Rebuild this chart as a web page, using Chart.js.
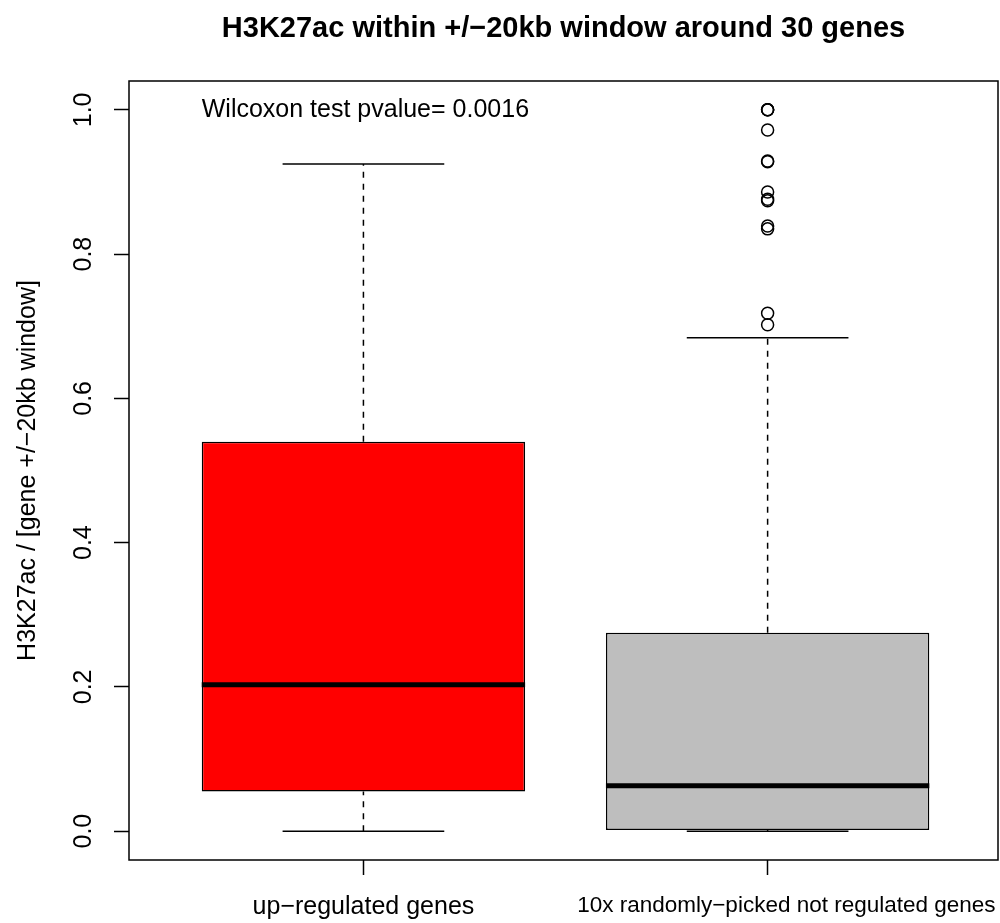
<!DOCTYPE html>
<html>
<head>
<meta charset="utf-8">
<script src="https://cdn.jsdelivr.net/npm/chart.js@4.4.1/dist/chart.umd.min.js"></script>
<style>
  html, body { margin: 0; padding: 0; background: #fff; }
  #wrap { width: 1000px; height: 923px; }
</style>
</head>
<body>
<div id="wrap"><canvas id="chart_box"></canvas></div>
<script>
// boxplot of H3K27ac fraction, two groups (R-style)
const groups      = ['up\u2212regulated genes', '10x randomly\u2212picked not regulated genes'];
const groupPos    = [1, 2];
const lowWhisker  = [0.0, 0.0];
const q1          = [0.055, 0.0015];
const median      = [0.203, 0.063];
const q3          = [0.540, 0.275];
const highWhisker = [0.925, 0.684];
const outliers2   = [1.0, 1.0, 1.0, 0.972, 0.929, 0.928, 0.886, 0.876, 0.874, 0.839, 0.835, 0.718, 0.702];
const boxColors   = ['#FF0000', '#BEBEBE'];
const yTicks      = [0, 0.2, 0.4, 0.6, 0.8, 1.0];
const titleText   = 'H3K27ac within +/\u221220kb window around 30 genes';
const yTitleText  = 'H3K27ac / [gene +/\u221220kb window]';
const pvalueText  = 'Wilcoxon test pvalue= 0.0016';
const pvaluePos   = { x: 0.6, y: 1.0 };

const BOXWEX = 0.8;           // R default box width
const FONT = '"Liberation Sans", Helvetica, Arial, sans-serif';

function seg(x0, x1, y0, y1, extra) {
  return Object.assign({
    type: 'line',
    data: [{ x: x0, y: y0 }, { x: x1, y: y1 }],
    borderColor: '#000',
    borderWidth: 1.5,
    pointRadius: 0,
    fill: false,
    tension: 0,
    order: 0,
  }, extra || {});
}

const datasets = [];
groupPos.forEach((x, i) => {
  datasets.push(seg(x - BOXWEX / 2, x + BOXWEX / 2, median[i], median[i], { borderWidth: 5 }));
  datasets.push(seg(x, x, q3[i], highWhisker[i], { borderDash: [6, 6] }));
  datasets.push(seg(x, x, lowWhisker[i], q1[i], { borderDash: [6, 6] }));
  datasets.push(seg(x - BOXWEX / 4, x + BOXWEX / 4, highWhisker[i], highWhisker[i]));
  datasets.push(seg(x - BOXWEX / 4, x + BOXWEX / 4, lowWhisker[i], lowWhisker[i]));
});
datasets.push({
  type: 'scatter',
  data: outliers2.map(v => ({ x: groupPos[1], y: v })),
  pointStyle: 'circle',
  pointRadius: 6,
  pointBorderWidth: 1.5,
  pointBackgroundColor: 'rgba(0,0,0,0)',
  pointBorderColor: '#000',
  order: 0,
});
datasets.push({
  type: 'bar',
  data: groupPos.map((x, i) => ({ x, y: [q1[i], q3[i]] })),
  backgroundColor: boxColors,
  borderColor: '#000',
  borderWidth: 1.5,
  borderSkipped: false,
  categoryPercentage: 1,
  barPercentage: BOXWEX,
  order: 1,
});

const framePlugin = {
  id: 'frame',
  afterDatasetsDraw(chart) {
    const { ctx, chartArea: a, scales } = chart;
    ctx.save();
    ctx.strokeStyle = '#000';
    ctx.lineWidth = 1.5;
    ctx.strokeRect(a.left, a.top, a.right - a.left, a.bottom - a.top);
    ctx.fillStyle = '#000';
    ctx.font = '25px ' + FONT;
    ctx.textAlign = 'left';
    ctx.textBaseline = 'middle';
    ctx.fillText(pvalueText, scales.x.getPixelForValue(pvaluePos.x), scales.y.getPixelForValue(pvaluePos.y));
    ctx.restore();
  },
};

// keep the plot box where R put it, whatever the label widths are
function noPad(s) {
  s.paddingLeft = 0; s.paddingRight = 0; s.paddingTop = 0; s.paddingBottom = 0;
}

new Chart(document.getElementById('chart_box'), {
  type: 'bar',
  data: { datasets },
  plugins: [framePlugin],
  options: {
    responsive: true,
    maintainAspectRatio: false,
    animation: false,
    layout: { autoPadding: false, padding: { left: 0, right: 2, top: 0, bottom: 0 } },
    plugins: {
      legend: { display: false },
      tooltip: { enabled: false },
      title: { display: false },
    },
    scales: {
      x: {
        type: 'linear',
        position: 'bottom',
        offset: false,
        min: 0.42,
        max: 2.57,
        afterBuildTicks: (s) => { s.ticks = groupPos.map(v => ({ value: v })); },
        afterFit: (s) => { s.height = 63; noPad(s); },
        grid: { offset: false, drawOnChartArea: false, drawTicks: true, tickLength: 15, color: '#000', tickWidth: 1.5 },
        border: { display: false },
        ticks: {
          autoSkip: false,
          maxRotation: 0,
          padding: 17,
          color: '#000',
          font: (c) => ({ family: FONT, size: c.index === 1 ? 22.5 : 25 }),
          // second label sits a little right of its tick in the original
          callback: (v, i) => (i === 1 ? '      ' : '') + groups[i],
        },
      },
      xTop: {
        type: 'linear',
        position: 'top',
        offset: false,
        min: 0.42,
        max: 2.57,
        afterFit: (s) => { s.height = 81; noPad(s); },
        grid: { display: false },
        border: { display: false },
        ticks: { display: false },
        title: {
          display: true,
          text: titleText,
          color: '#000',
          font: { family: FONT, size: 29, weight: 'bold' },
          padding: { top: 12, bottom: 0 },
        },
      },
      y: {
        type: 'linear',
        position: 'left',
        min: -0.04,
        max: 1.04,
        afterBuildTicks: (s) => { s.ticks = yTicks.map(v => ({ value: v })); },
        afterFit: (s) => { s.width = 129; noPad(s); },
        grid: { drawOnChartArea: false, drawTicks: true, tickLength: 15, color: '#000', tickWidth: 1.5 },
        border: { display: false },
        ticks: {
          minRotation: 90,
          maxRotation: 90,
          crossAlign: 'center',
          padding: 13,
          color: '#000',
          font: { family: FONT, size: 25 },
          callback: (v) => v.toFixed(1),
        },
        title: {
          display: true,
          text: yTitleText,
          color: '#000',
          font: { family: FONT, size: 25 },
          padding: { top: 13, bottom: 0 },
        },
      },
    },
  },
});
</script>
</body>
</html>
